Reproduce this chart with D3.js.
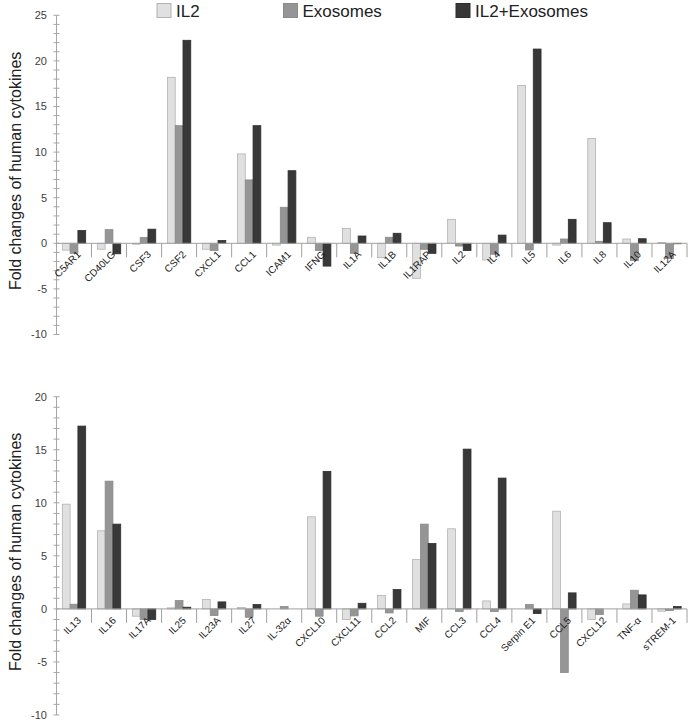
<!DOCTYPE html>
<html>
<head>
<meta charset="utf-8">
<script src="https://cdn.jsdelivr.net/npm/d3@7"></script>
<style>
  body { margin: 0; background: #fff; }
  #wrap { position: relative; width: 690px; height: 722px; }
  svg { position: absolute; left: 0; top: 0; }
  svg text { font-family: "Liberation Sans", Arial, sans-serif; }
  .xlab {
    position: absolute; font-family: "Liberation Sans", Arial, sans-serif; font-size: 10px;
    line-height: 12px; color: #1a1a1a; white-space: nowrap;
    transform-origin: 100% 50%; transform: rotate(-45deg);
  }
</style>
</head>
<body>
<div id="wrap"><svg id="chart" width="690" height="722"></svg></div>
<script>
// series names and colours
var series = ["IL2", "Exosomes", "IL2+Exosomes"];
var fills = ["#e0e0e0", "#959595", "#383838"];
var strokes = ["#b2b2b2", "#8a8a8a", "#2e2e2e"];

// top panel
var topCats = ["C5AR1", "CD40LG", "CSF3", "CSF2", "CXCL1", "CCL1", "ICAM1", "IFNG", "IL1A", "IL1B",
               "IL1RAP", "IL2", "IL4", "IL5", "IL6", "IL8", "IL10", "IL12A"];
var topIL2 = [-0.75, -0.65, -0.1, 18.2, -0.65, 9.8, -0.2, 0.66, 1.64, -1.57,
              -3.84, 2.63, -1.83, 17.3, -0.2, 11.5, 0.47, 0.1];
var topExo = [-1.1, 1.5, 0.65, 12.9, -0.8, 6.95, 3.95, -0.8, -1.1, 0.66,
              -0.66, -0.3, -1.2, -0.73, 0.47, 0.22, -1.9, -1.65];
var topBoth = [1.4, -1.15, 1.55, 22.26, 0.3, 12.9, 7.96, -2.5, 0.8, 1.1,
               -1.1, -0.8, 0.9, 21.3, 2.63, 2.26, 0.5, -0.05];
var topTicks = [-10, -5, 0, 5, 10, 15, 20, 25];

// bottom panel
var botCats = ["IL13", "IL16", "IL17A", "IL25", "IL23A", "IL27", "IL-32α", "CXCL10", "CXCL11", "CCL2",
               "MIF", "CCL3", "CCL4", "Serpin E1", "CCL5", "CXCL12", "TNF-α", "sTREM-1"];
var botIL2 = [9.87, 7.36, -0.69, 0.1, 0.88, 0.13, 0, 8.68, -1.0, 1.26,
              4.65, 7.55, 0.75, 0, 9.21, -1.0, 0.47, -0.22];
var botExo = [0.44, 12.04, -1.0, 0.79, -0.63, -0.79, 0.22, -0.69, -0.66, -0.38,
              7.99, -0.25, -0.25, 0.41, -6.0, -0.53, 1.76, -0.16];
var botBoth = [17.23, 7.99, -1.0, 0.16, 0.66, 0.41, 0, 12.96, 0.53, 1.82,
               6.16, 15.06, 12.33, -0.44, 1.51, 0, 1.32, 0.22];
var botTicks = [-10, -5, 0, 5, 10, 15, 20];

var svg = d3.select("#chart");
var wrap = d3.select("#wrap");
var x0 = 56.5, x1end = 687;

function panel(cats, vals, ticks, yTop, yBot) {
  var g = svg.append("g");
  var x = d3.scaleBand().domain(cats).range([x0, x1end]).paddingInner(0).paddingOuter(0);
  var xs = d3.scaleBand().domain(series).range([0, x.bandwidth()]).paddingInner(0).paddingOuter(0.75);
  var y = d3.scaleLinear().domain([ticks[0], ticks[ticks.length - 1]]).range([yBot, yTop]);

  // bars
  series.forEach(function (s, si) {
    g.selectAll(null).data(cats).enter().append("rect")
      .attr("x", function (c) { return x(c) + xs(s); })
      .attr("width", xs.bandwidth())
      .attr("y", function (c, i) { return y(Math.max(0, vals[si][i])); })
      .attr("height", function (c, i) { return Math.abs(y(vals[si][i]) - y(0)); })
      .attr("fill", fills[si])
      .attr("stroke", strokes[si])
      .attr("stroke-width", 0.8);
  });

  // y axis line and ticks
  g.append("line").attr("x1", x0).attr("x2", x0).attr("y1", y.range()[1]).attr("y2", y.range()[0])
    .attr("stroke", "#a6a6a6");
  g.selectAll(null).data(d3.range(ticks[0], ticks[ticks.length - 1] + 1)).enter().append("line")
    .attr("x1", x0 - 3).attr("x2", x0 + 3)
    .attr("y1", function (d) { return y(d); }).attr("y2", function (d) { return y(d); })
    .attr("stroke", "#a6a6a6");
  g.selectAll(null).data(ticks).enter().append("text")
    .attr("x", 47).attr("y", function (d) { return y(d); })
    .attr("dy", "0.35em").attr("text-anchor", "end")
    .attr("font-size", 11).attr("fill", "#404040")
    .text(function (d) { return d; });

  // zero line with category ticks
  g.append("line").attr("x1", x0).attr("x2", x1end).attr("y1", y(0)).attr("y2", y(0))
    .attr("stroke", "#a0a0a0");
  g.selectAll(null).data(cats).enter().append("line")
    .attr("x1", function (c) { return x(c) + x.step(); })
    .attr("x2", function (c) { return x(c) + x.step(); })
    .attr("y1", y(0)).attr("y2", y(0) + 14)
    .attr("stroke", "#a0a0a0");

  // category labels: html overlay, rotated 45 degrees about their right end
  wrap.selectAll(null).data(cats).enter().append("div")
    .attr("class", "xlab")
    .style("right", function (c) { return (690 - (x(c) + x.bandwidth() / 2 + 5)) + "px"; })
    .style("top", (y(0) + 10 - 6) + "px")
    .text(function (c) { return c; });

  // y title
  g.append("text")
    .attr("transform", "translate(21," + ((y.range()[0] + y.range()[1]) / 2 - 4) + ") rotate(-90)")
    .attr("text-anchor", "middle").attr("font-size", 16).attr("fill", "#222")
    .text("Fold changes of human cytokines");
}

panel(topCats, [topIL2, topExo, topBoth], topTicks, 15.3, 334.5);
panel(botCats, [botIL2, botExo, botBoth], botTicks, 396.7, 715);

// legend
var legX = [157, 283.5, 456];
var leg = svg.append("g");
series.forEach(function (s, i) {
  leg.append("rect").attr("x", legX[i]).attr("y", 3.5).attr("width", 14).attr("height", 14)
    .attr("fill", fills[i]).attr("stroke", strokes[i]);
  leg.append("text").attr("x", legX[i] + 19).attr("y", 17)
    .attr("font-size", 17).attr("fill", "#222")
    .style("font-family", "'Liberation Sans Narrow', 'Arial Narrow', 'Liberation Sans', sans-serif")
    .text(s);
});
</script>
</body>
</html>
